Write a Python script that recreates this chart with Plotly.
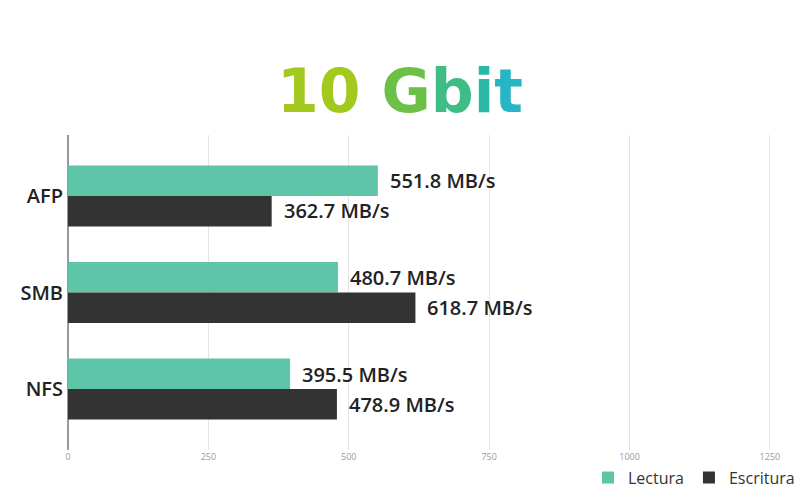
import plotly.graph_objects as go

categories = ["AFP", "SMB", "NFS"]
lectura = [551.8, 480.7, 395.5]
escritura = [362.7, 618.7, 478.9]
x_ticks = [0, 250, 500, 750, 1000, 1250]
unit = "MB/s"

C_LECT = "#5ec5a8"
C_ESC = "#333333"
FONT = "Open Sans"

fig = go.Figure()
fig.add_trace(go.Bar(y=categories, x=lectura, name="Lectura", orientation="h",
                     marker=dict(color=C_LECT, line=dict(width=0))))
fig.add_trace(go.Bar(y=categories, x=escritura, name="Escritura", orientation="h",
                     marker=dict(color=C_ESC, line=dict(width=0))))

annotations = []
for cat, v in zip(categories, lectura):
    annotations.append(dict(x=v, y=cat, text=f"{v:.1f} {unit}", xanchor="left", yanchor="middle",
                            xshift=10, yshift=15, showarrow=False,
                            font=dict(family=FONT, size=20, color="#222222", weight=600)))
for cat, v in zip(categories, escritura):
    annotations.append(dict(x=v, y=cat, text=f"{v:.1f} {unit}", xanchor="left", yanchor="middle",
                            xshift=10, yshift=-15, showarrow=False,
                            font=dict(family=FONT, size=20, color="#222222", weight=600)))

title_text = ('<span style="color:#a3c81e">10 </span>'
              '<span style="color:#6cc046">G</span>'
              '<span style="color:#3fbd86">b</span>'
              '<span style="color:#2bb8a8">i</span>'
              '<span style="color:#27b4c4">t</span>')

fig.update_layout(
    width=800, height=494,
    margin=dict(l=68, r=2, t=135, b=44, autoexpand=False),
    paper_bgcolor="white", plot_bgcolor="white",
    barmode="group", bargap=0.37, bargroupgap=0,
    showlegend=True,
    legend=dict(orientation="h", x=1.0, xanchor="right", xref="container",
                y=0.033, yanchor="middle", yref="container",
                font=dict(family=FONT, size=16, color="#333333"),
                itemwidth=30, traceorder="normal"),
    xaxis=dict(range=[0, 1300], tickvals=x_ticks, ticktext=[str(t) for t in x_ticks],
               showgrid=True, gridcolor="#e4e4e4", gridwidth=1,
               zeroline=True, zerolinecolor="#999999", zerolinewidth=1.5,
               tickfont=dict(family=FONT, size=9, color="#999999"),
               showline=False, ticks=""),
    yaxis=dict(range=[2.632, -0.632], autorange=False,
               tickfont=dict(family=FONT, size=20, color="#222222", weight=600),
               showgrid=False, ticks="", ticklabelstandoff=4),
    title=dict(text=title_text, x=0.5, xanchor="center", y=0.815, yanchor="middle",
               font=dict(family="DejaVu Sans", size=60, weight=800)),
    annotations=annotations,
)

fig.write_html("out.html")
